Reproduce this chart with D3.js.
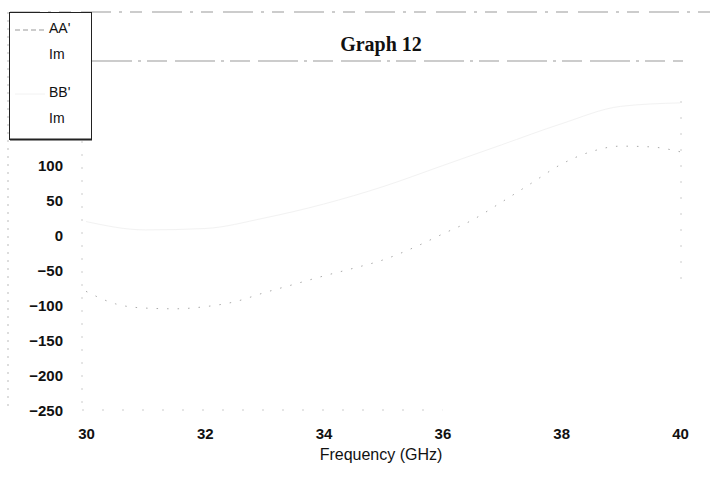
<!DOCTYPE html>
<html>
<head>
<meta charset="utf-8">
<script src="https://cdn.jsdelivr.net/npm/d3@7"></script>
<style>
  body { margin: 0; background: #fff; }
</style>
</head>
<body>
<svg width="714" height="481"></svg>
<script>
const svg = d3.select("svg"),
    width = +svg.attr("width"),
    height = +svg.attr("height");

const sans = "Arial, 'Liberation Sans', sans-serif";

// data
const freqs = [30, 30.5, 31, 31.5, 32, 32.5, 33, 33.5, 34, 34.5, 35, 35.5, 36, 36.5, 37, 37.5, 38, 38.5, 39, 39.5, 40];
const aaIm = [-80, -98, -104, -105, -102, -95, -82, -70, -58, -47, -35, -18, 2, 22, 48, 75, 102, 120, 128, 127, 120];
const bbFreqs = [30, 31, 32, 33, 34, 35, 36, 37, 38, 39, 40];
const bbIm = [20, 8, 10, 25, 45, 70, 100, 130, 160, 185, 190];
const xTicks = [30, 32, 34, 36, 38, 40];
const yTicks = [100, 50, 0, -50, -100, -150, -200, -250]; // 150..250 sit under the legend

const plot = {left: 82, right: 681, top: 61, bottom: 410};

const x = d3.scaleLinear().domain([30, 40]).range([plot.left + 4, plot.right - 1]);
const y = d3.scaleLinear().domain([-250, 250]).range([plot.bottom, plot.top]);

// outer chart frame (only partly visible in the scan)
svg.append("line").attr("x1", 10).attr("x2", width).attr("y1", 12).attr("y2", 12)
    .attr("stroke", "#999").attr("stroke-dasharray", "30,8,3,8,12,10");
svg.append("line").attr("x1", 8).attr("x2", 8).attr("y1", 12).attr("y2", 412)
    .attr("stroke", "#bbb").attr("stroke-dasharray", "2,6");

// plot area border
svg.append("line").attr("x1", plot.left + 10).attr("x2", plot.right + 2).attr("y1", plot.top).attr("y2", plot.top)
    .attr("stroke", "#999").attr("stroke-dasharray", "40,6,3,6,20,8");
svg.append("line").attr("x1", plot.left).attr("x2", plot.left).attr("y1", plot.top + 80).attr("y2", plot.bottom)
    .attr("stroke", "#ccc").attr("stroke-dasharray", "2,11");
svg.append("line").attr("x1", plot.right).attr("x2", plot.right).attr("y1", plot.top + 40).attr("y2", plot.bottom - 120)
    .attr("stroke", "#ccc").attr("stroke-dasharray", "2,14");
svg.append("line").attr("x1", plot.left).attr("x2", x(36)).attr("y1", plot.bottom).attr("y2", plot.bottom)
    .attr("stroke", "#ccc").attr("stroke-dasharray", "2,18");

// axes (labels only, as in the scan)
const yAxis = svg.append("g")
    .attr("transform", `translate(${plot.left - 19},0)`)
    .call(d3.axisLeft(y).tickValues(yTicks).tickSize(0).tickPadding(0));
yAxis.select(".domain").remove();
yAxis.selectAll("text")
    .attr("font-family", sans).attr("font-size", 15).attr("font-weight", "bold")
    .attr("fill", "#111").attr("dy", "0.35em");

const xAxis = svg.append("g")
    .attr("transform", `translate(0,${plot.bottom + 18})`)
    .call(d3.axisBottom(x).tickValues(xTicks).tickSize(0).tickPadding(0));
xAxis.select(".domain").remove();
xAxis.selectAll("text")
    .attr("font-family", sans).attr("font-size", 15).attr("font-weight", "bold")
    .attr("fill", "#111");

svg.append("text")
    .attr("x", 381)
    .attr("y", 460)
    .attr("text-anchor", "middle")
    .attr("font-family", sans)
    .attr("font-size", 16)
    .attr("fill", "#111")
    .text("Frequency (GHz)");

// title
svg.append("text")
    .attr("x", 381)
    .attr("y", 51)
    .attr("text-anchor", "middle")
    .attr("font-family", "'Liberation Serif', 'Times New Roman', serif")
    .attr("font-weight", "bold")
    .attr("font-size", 20)
    .attr("fill", "#111")
    .text("Graph 12");

// series
const line = d3.line().x(d => x(d[0])).y(d => y(d[1])).curve(d3.curveMonotoneX);

svg.append("path")
    .datum(bbFreqs.map((f, i) => [f, bbIm[i]]))
    .attr("fill", "none")
    .attr("stroke", "#f2f2f2")
    .attr("stroke-width", 1)
    .attr("d", line);

svg.append("path")
    .datum(freqs.map((f, i) => [f, aaIm[i]]))
    .attr("fill", "none")
    .attr("stroke", "#aaa")
    .attr("stroke-width", 1)
    .attr("stroke-dasharray", "1.5,9")
    .attr("d", line);

// legend box, drawn last so it covers the top of the plot
const legend = svg.append("g");
legend.append("rect")
    .attr("x", 9.5).attr("y", 12.5).attr("width", 82).attr("height", 127)
    .attr("fill", "#fff").attr("stroke", "#222").attr("stroke-width", 1);
legend.append("line").attr("x1", 10).attr("x2", 92).attr("y1", 139.5).attr("y2", 139.5)
    .attr("stroke", "#222").attr("stroke-width", 2);

const legendItems = [["AA'", "Im", "#999", "5,3"], ["BB'", "Im", "#f2f2f2", null]];
legendItems.forEach((d, i) => {
  const y0 = 33 + i * 64;
  legend.append("line").attr("x1", 15).attr("x2", 45).attr("y1", y0 - 3).attr("y2", y0 - 3)
      .attr("stroke", d[2]).attr("stroke-dasharray", d[3]);
  legend.append("text").attr("x", 49).attr("y", y0)
      .attr("font-family", sans).attr("font-size", 14).attr("fill", "#111").text(d[0]);
  legend.append("text").attr("x", 49).attr("y", y0 + 26)
      .attr("font-family", sans).attr("font-size", 14).attr("fill", "#111").text(d[1]);
});
</script>
</body>
</html>
